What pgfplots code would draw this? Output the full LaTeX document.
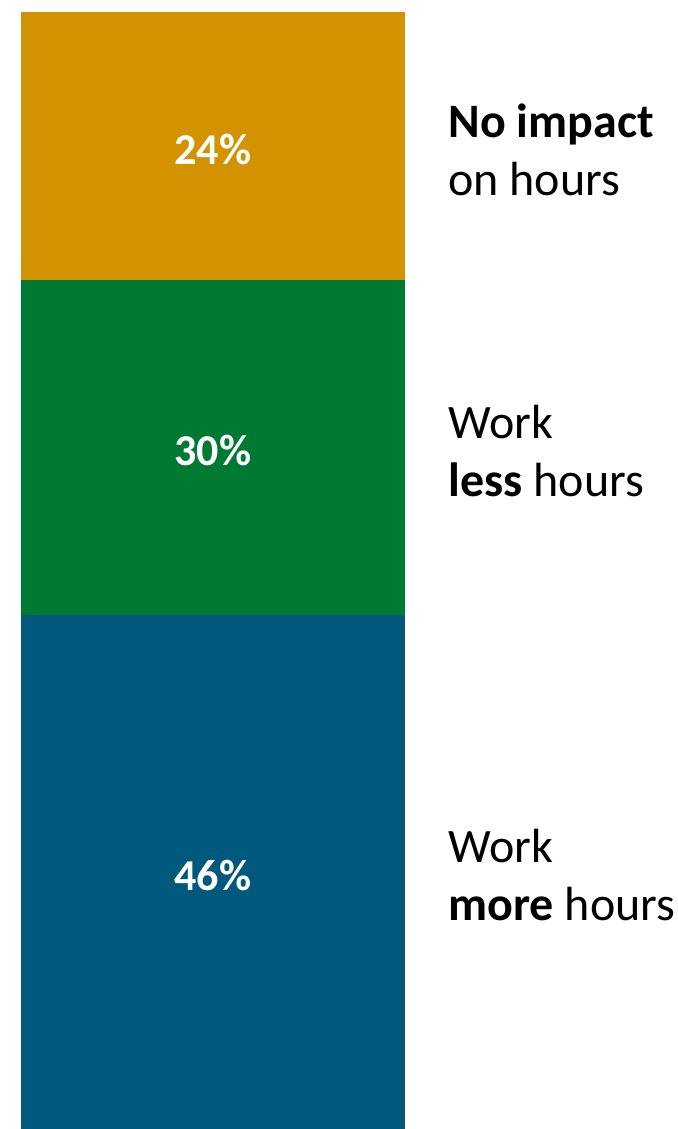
\documentclass[border=0pt]{standalone}
\usepackage{fontspec}
\setmainfont{Carlito}
\usepackage{pgfplots}
\pgfplotsset{compat=1.18}
\definecolor{cOrange}{HTML}{D39200}
\definecolor{cGreen}{HTML}{007A33}
\definecolor{cBlue}{HTML}{00587C}
\begin{document}
\begin{tikzpicture}
\useasboundingbox (0,0) rectangle (339pt,564.5pt);
\begin{axis}[
  at={(10.5pt,0pt)}, anchor=south west,
  scale only axis, width=192pt, height=558.5pt,
  xmin=0, xmax=1, ymin=0, ymax=100,
  hide axis, clip=false,
  ybar stacked, bar width=192pt,
]
\addplot[fill=cBlue, draw=none] coordinates {(0.5,46)};
\addplot[fill=cGreen, draw=none] coordinates {(0.5,30)};
\addplot[fill=cOrange, draw=none] coordinates {(0.5,24)};
\coordinate (p1) at (axis cs:0.5,87.7);
\coordinate (p2) at (axis cs:0.5,60.7);
\coordinate (p3) at (axis cs:0.5,22.7);
\node[anchor=west, align=left, inner sep=0pt, font=\fontsize{24}{29}\selectfont] at (axis cs:1.112,87.7) {\textbf{No impact}\\on hours};
\node[anchor=west, align=left, inner sep=0pt, font=\fontsize{24}{29}\selectfont] at (axis cs:1.112,60.7) {Work\\\textbf{less} hours};
\node[anchor=west, align=left, inner sep=0pt, font=\fontsize{24}{29}\selectfont] at (axis cs:1.112,22.7) {Work\\\textbf{more} hours};
\end{axis}
\node[text=white, font=\fontsize{22}{26}\selectfont\bfseries] at (p1) {24\%};
\node[text=white, font=\fontsize{22}{26}\selectfont\bfseries] at (p2) {30\%};
\node[text=white, font=\fontsize{22}{26}\selectfont\bfseries] at (p3) {46\%};
\end{tikzpicture}
\end{document}
